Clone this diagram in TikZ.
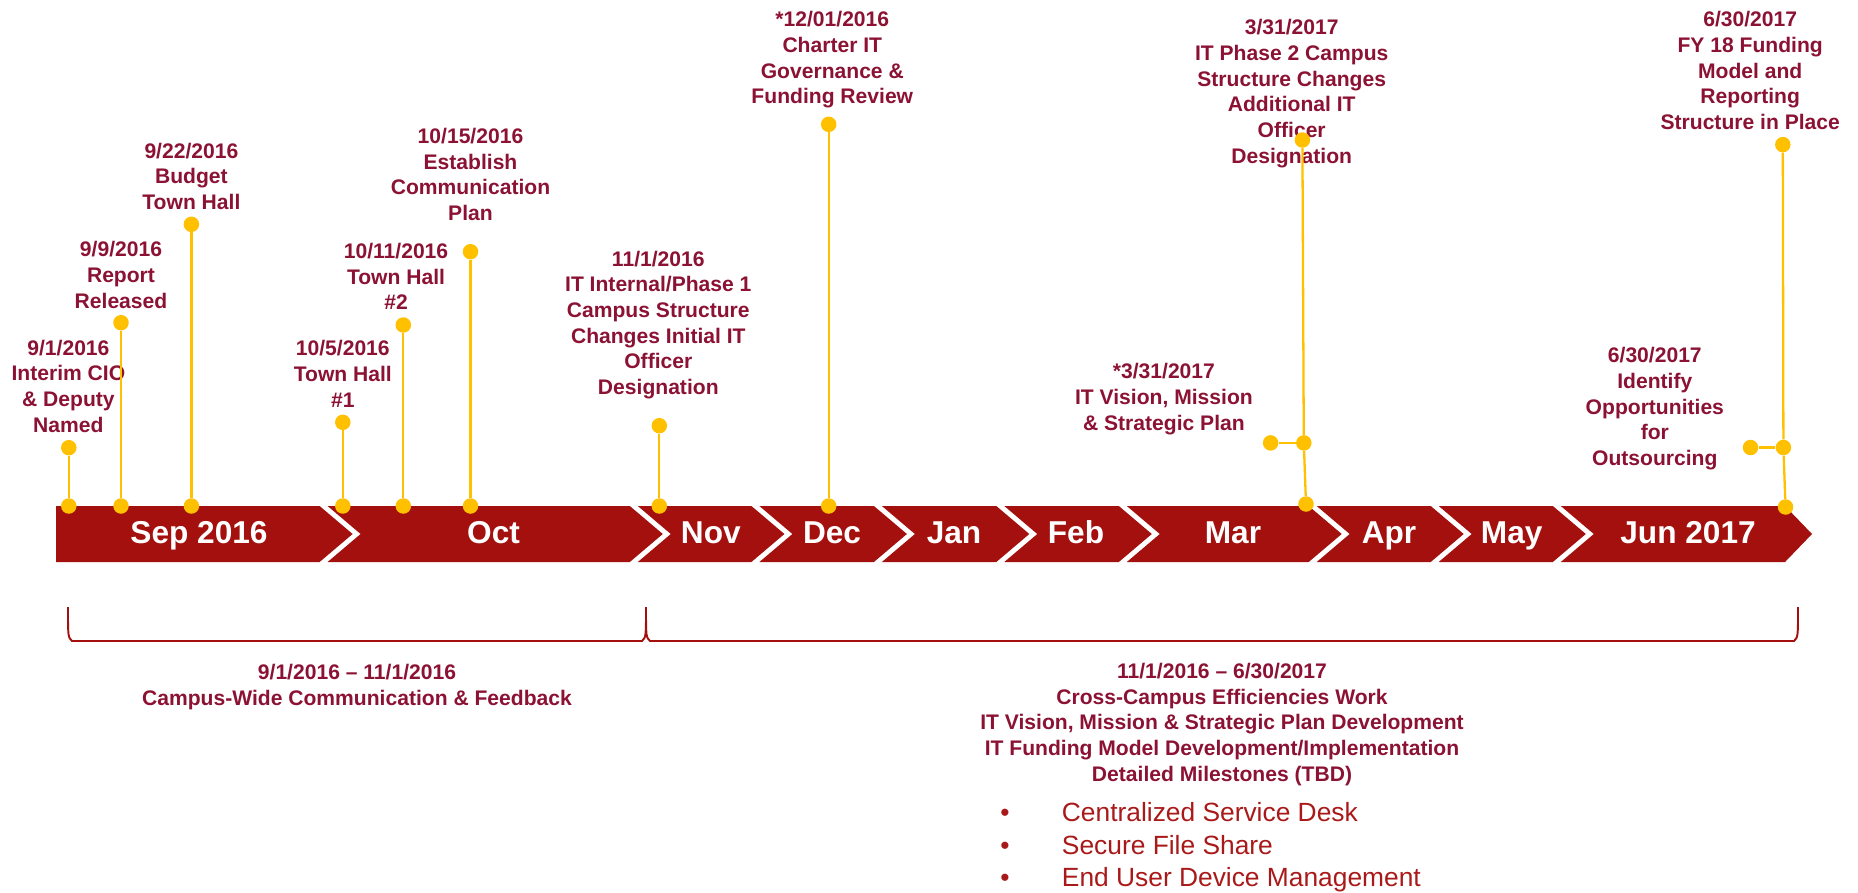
\documentclass[tikz,border=0pt]{standalone}
\usepackage{fontspec}
\setmainfont{Liberation Sans}
\definecolor{barred}{RGB}{163,16,13}
\definecolor{labelred}{RGB}{140,18,52}
\definecolor{listred}{RGB}{170,25,25}
\definecolor{markgold}{RGB}{255,192,0}
\tikzset{
  month/.style={fill=barred},
  monthname/.style={text=white, font=\bfseries\fontsize{18}{21}\selectfont, anchor=base, inner sep=0pt},
  event/.style={text=labelred, font=\bfseries\fontsize{12}{14.6}\selectfont, align=center, anchor=base, inner sep=0pt},
  mile/.style={circle, fill=markgold, inner sep=0pt, minimum size=0.31cm},
  stem/.style={draw=markgold, line width=1.3pt},
  bracket/.style={draw=barred, line width=1.1pt},
  dotmark/.style={text=listred, font=\fontsize{15}{18}\selectfont, anchor=base, inner sep=0pt},
  listitem/.style={text=listred, font=\fontsize{15}{18}\selectfont, anchor=base west, inner sep=0pt},
}
\begin{document}
\begin{tikzpicture}[x=0.02cm, y=-0.02cm]
\useasboundingbox (0,0) rectangle (1858,892);
% month bar
\fill[month] (56,506) -- (319.6,506) -- (352.6,534) -- (319.6,562) -- (56,562) -- cycle;
\fill[month] (327.6,506) -- (629.8,506) -- (662.8,534) -- (629.8,562) -- (327.6,562) -- (360.6,534) -- cycle;
\fill[month] (637.8,506) -- (751.4,506) -- (784.4,534) -- (751.4,562) -- (637.8,562) -- (670.8,534) -- cycle;
\fill[month] (759.4,506) -- (873.9,506) -- (906.9,534) -- (873.9,562) -- (759.4,562) -- (792.4,534) -- cycle;
\fill[month] (881.9,506) -- (996.3,506) -- (1029.3,534) -- (996.3,562) -- (881.9,562) -- (914.9,534) -- cycle;
\fill[month] (1004.3,506) -- (1118.8,506) -- (1151.8,534) -- (1118.8,562) -- (1004.3,562) -- (1037.3,534) -- cycle;
\fill[month] (1126.8,506) -- (1308.7,506) -- (1341.7,534) -- (1308.7,562) -- (1126.8,562) -- (1159.8,534) -- cycle;
\fill[month] (1316.7,506) -- (1430.7,506) -- (1463.7,534) -- (1430.7,562) -- (1316.7,562) -- (1349.7,534) -- cycle;
\fill[month] (1438.7,506) -- (1552.8,506) -- (1585.8,534) -- (1552.8,562) -- (1438.7,562) -- (1471.7,534) -- cycle;
\fill[month] (1560.8,506) -- (1785,506) -- (1812,534) -- (1785,562) -- (1560.8,562) -- (1593.8,534) -- cycle;
\node[monthname] (sep) at (199,543) {Sep 2016};
\node[monthname] (oct) at (493.5,543) {Oct};
\node[monthname] (nov) at (710.8,543) {Nov};
\node[monthname] (dec) at (832,543) {Dec};
\node[monthname] (jan) at (954,543) {Jan};
\node[monthname] (feb) at (1076,543) {Feb};
\node[monthname] (mar) at (1233,543) {Mar};
\node[monthname] (apr) at (1389,543) {Apr};
\node[monthname] (may) at (1511.7,543) {May};
\node[monthname] (jun) at (1688,543) {Jun 2017};
% milestone texts (placed at the baseline of their last line)
\node[event] (l1) at (68.4,432) {9/1/2016\\Interim CIO\\\& Deputy\\Named};
\node[event] (l2) at (121,308) {9/9/2016\\Report\\Released};
\node[event] (l3) at (191.4,209.5) {9/22/2016\\Budget\\Town Hall};
\node[event] (l4) at (342.8,407) {10/5/2016\\Town Hall\\\#1};
\node[event] (l5) at (396,309.7) {10/11/2016\\Town Hall\\\#2};
\node[event] (l6) at (470.5,220.4) {10/15/2016\\Establish\\Communication\\Plan};
\node[event] (l7) at (658.3,394.5) {11/1/2016\\IT Internal/Phase 1\\Campus Structure\\Changes Initial IT\\Officer\\Designation};
\node[event] (l8) at (832.3,103.8) {*12/01/2016\\Charter IT\\Governance \&\\Funding Review};
\node[event] (l9) at (1163.9,430.2) {*3/31/2017\\IT Vision, Mission\\\& Strategic Plan};
\node[event] (l10) at (1291.7,163) {3/31/2017\\IT Phase 2 Campus\\Structure Changes\\Additional IT\\Officer\\Designation};
\node[event] (l11) at (1654.8,465.3) {6/30/2017\\Identify\\Opportunities\\for\\Outsourcing};
\node[event] (l12) at (1750.2,129.5) {6/30/2017\\FY 18 Funding\\Model and\\Reporting\\Structure in Place};
% milestone markers
\node[mile] (t1) at (68.8,447.7) {};
\node[mile] (b1) at (68.8,506) {};
\node[mile] (t2) at (121,322.7) {};
\node[mile] (b2) at (121,506) {};
\node[mile] (t3) at (191.4,224.3) {};
\node[mile] (b3) at (191.4,506) {};
\node[mile] (t4) at (342.8,422.3) {};
\node[mile] (b4) at (342.8,506) {};
\node[mile] (t5) at (403.3,325) {};
\node[mile] (b5) at (403.3,506) {};
\node[mile] (t6) at (470.5,251.7) {};
\node[mile] (b6) at (470.5,506) {};
\node[mile] (t7) at (659.3,425.7) {};
\node[mile] (b7) at (659.3,506) {};
\node[mile] (t8) at (828.7,124.3) {};
\node[mile] (b8) at (828.7,506) {};
\node[mile] (t9) at (1270.6,442.9) {};
\node[mile] (j9) at (1303.8,442.9) {};
\node[mile] (t10) at (1302.4,140) {};
\node[mile] (b10) at (1306,504) {};
\node[mile] (t11) at (1750.5,447.5) {};
\node[mile] (j11) at (1783.4,447.5) {};
\node[mile] (t12) at (1782.8,144.6) {};
\node[mile] (b12) at (1785.5,507) {};
\draw[stem] (t1) -- (b1);
\draw[stem] (t2) -- (b2);
\draw[stem] (t3) -- (b3);
\draw[stem] (t4) -- (b4);
\draw[stem] (t5) -- (b5);
\draw[stem] (t6) -- (b6);
\draw[stem] (t7) -- (b7);
\draw[stem] (t8) -- (b8);
\draw[stem] (t9) -- (j9);
\draw[stem] (t10) -- (j9);
\draw[stem] (j9) -- (b10);
\draw[stem] (t11) -- (j11);
\draw[stem] (t12) -- (j11);
\draw[stem] (j11) -- (b12);
% phase brackets
\draw[bracket] (68,607) .. controls (68,637) .. (72,641) -- (642,641) .. controls (646,637) .. (646,607)
  .. controls (646,637) .. (650,641) -- (1794,641) .. controls (1798,637) .. (1798,607);
\node[event] (p1) at (357,705.5) {9/1/2016 -- 11/1/2016\\Campus-Wide Communication \& Feedback};
\node[event] (p2) at (1222,781) {11/1/2016 -- 6/30/2017\\Cross-Campus Efficiencies Work\\IT Vision, Mission \& Strategic Plan Development\\IT Funding Model Development/Implementation\\Detailed Milestones (TBD)};
\node[dotmark] (u1) at (1005,821.7) {\textbullet};
\node[dotmark] (u2) at (1005,854) {\textbullet};
\node[dotmark] (u3) at (1005,886) {\textbullet};
\node[listitem] (i1) at (1061.6,821.7) {Centralized Service Desk};
\node[listitem] (i2) at (1061.6,854) {Secure File Share};
\node[listitem] (i3) at (1061.6,886) {End User Device Management};
\end{tikzpicture}
\end{document}
